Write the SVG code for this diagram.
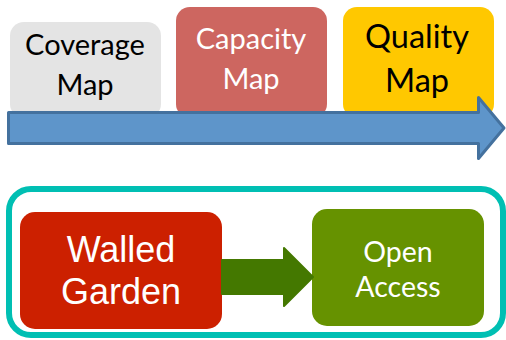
<svg xmlns="http://www.w3.org/2000/svg" width="506" height="340" viewBox="0 0 506 340">
<style>
.cal{font-family:Lato,"Open Sans","Liberation Sans",sans-serif;text-anchor:middle}
.ari{font-family:"Liberation Sans",Arial,sans-serif;text-anchor:middle;fill:#fff}
</style>
<rect width="506" height="340" fill="#fff"/>
<g id="coverage">
<rect x="10" y="22" width="151" height="96" rx="14" fill="#e4e4e4"/>
<text class="cal" x="85" y="55" font-size="29" fill="#000">Coverage</text>
<text class="cal" x="85" y="95" font-size="29" fill="#000">Map</text>
</g>
<g id="capacity">
<rect x="176" y="7" width="151" height="111" rx="14" fill="#cd6660"/>
<text class="cal" x="251" y="49" font-size="29" fill="#fff">Capacity</text>
<text class="cal" x="251" y="89" font-size="29" fill="#fff">Map</text>
</g>
<g id="quality">
<rect x="343" y="7" width="151" height="111" rx="14" fill="#ffc800"/>
<text class="cal" x="417" y="48" font-size="32.5" fill="#000">Quality</text>
<text class="cal" x="417" y="92" font-size="32.5" fill="#000">Map</text>
</g>
<g id="timeline">
<path d="M8.5,112.5 H478.5 V97.5 L504,128 L478.5,158.5 V143.5 H8.5 Z" fill="#5e95ca" stroke="#44719e" stroke-width="3" stroke-linejoin="round"/>
</g>
<g id="container">
<rect x="9" y="189" width="494" height="146" rx="22" fill="none" stroke="#00bfb3" stroke-width="6"/>
</g>
<g id="walled">
<rect x="20" y="212" width="202" height="117" rx="15" fill="#cc2000"/>
<text class="ari" x="121" y="262" font-size="36">Walled</text>
<text class="ari" x="121" y="304" font-size="36">Garden</text>
</g>
<g id="open">
<rect x="312" y="209" width="172" height="117" rx="15" fill="#669200"/>
<text class="cal" x="398" y="262" font-size="28.5" fill="#fff">Open</text>
<text class="cal" x="398" y="297" font-size="28.5" fill="#fff">Access</text>
</g>
<g id="connectors">
<path d="M222,260 H284 V248 L313,277 L284,306 V294 H222 Z" fill="#447800" stroke="#447800" stroke-width="2" stroke-linejoin="round"/>
</g>
</svg>
